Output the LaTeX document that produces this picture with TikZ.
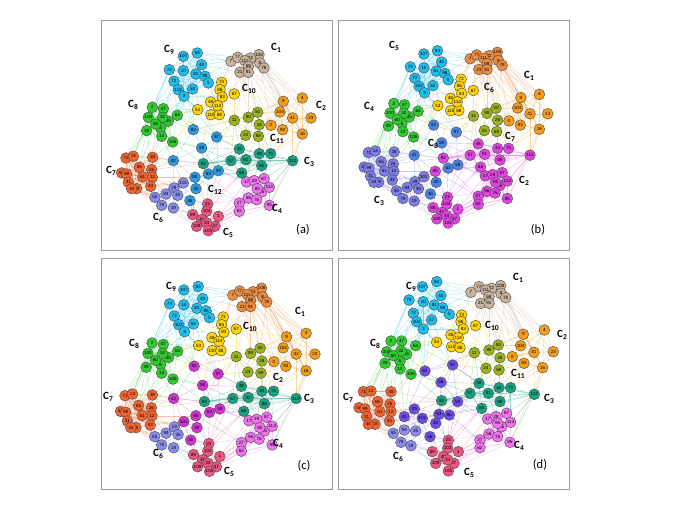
\documentclass[tikz,border=0pt]{standalone}
\usepackage{fontspec}
\setsansfont{Liberation Sans}
\newfontfamily\lblfont{Carlito}
\pgfdeclarelayer{bg}
\pgfdeclarelayer{edges}
\pgfsetlayers{bg,edges,main}
\definecolor{cCyan}{HTML}{1DBFEE}
\definecolor{cTan}{HTML}{C9B39C}
\definecolor{cOrange}{HTML}{F49D16}
\definecolor{cOrangeB}{HTML}{EE8C3E}
\definecolor{cYellow}{HTML}{FFD502}
\definecolor{cOlive}{HTML}{9CB41C}
\definecolor{cGreen}{HTML}{2FCB2F}
\definecolor{cBlue}{HTML}{2C9BE6}
\definecolor{cBlueB}{HTML}{4C85E8}
\definecolor{cTeal}{HTML}{15A383}
\definecolor{cPink}{HTML}{F272F2}
\definecolor{cRose}{HTML}{EC5580}
\definecolor{cLav}{HTML}{8C8CEE}
\definecolor{cLavB}{HTML}{7D7DEA}
\definecolor{cRed}{HTML}{F2642E}
\definecolor{cMag}{HTML}{E144E1}
\definecolor{cMagD}{HTML}{D233D2}
\definecolor{cPurp}{HTML}{6E4CEA}
% panel a
\colorlet{a-g9}{cCyan}\colorlet{a-g1}{cTan}\colorlet{a-g10}{cYellow}\colorlet{a-g2}{cOrange}
\colorlet{a-g11}{cOlive}\colorlet{a-g8}{cGreen}\colorlet{a-gB}{cBlue}\colorlet{a-g80}{cBlue}
\colorlet{a-g92}{cTeal}\colorlet{a-g101}{cLav}\colorlet{a-g29}{cLav}\colorlet{a-g3}{cTeal}
\colorlet{a-g4}{cPink}\colorlet{a-g5}{cRose}\colorlet{a-g6}{cLav}\colorlet{a-g7}{cRed}
% panel b
\colorlet{b-g9}{cCyan}\colorlet{b-g1}{cOrangeB}\colorlet{b-g10}{cYellow}\colorlet{b-g2}{cOrange}
\colorlet{b-g11}{cOlive}\colorlet{b-g8}{cGreen}\colorlet{b-gB}{cBlueB}\colorlet{b-g80}{cMag}
\colorlet{b-g92}{cMag}\colorlet{b-g101}{cLavB}\colorlet{b-g29}{cLavB}\colorlet{b-g3}{cMag}
\colorlet{b-g4}{cMag}\colorlet{b-g5}{cMag}\colorlet{b-g6}{cLavB}\colorlet{b-g7}{cLavB}
% panel c
\colorlet{c-g9}{cCyan}\colorlet{c-g1}{cOrangeB}\colorlet{c-g10}{cYellow}\colorlet{c-g2}{cOrange}
\colorlet{c-g11}{cOlive}\colorlet{c-g8}{cGreen}\colorlet{c-gB}{cMagD}\colorlet{c-g80}{cMagD}
\colorlet{c-g92}{cTeal}\colorlet{c-g101}{cMagD}\colorlet{c-g29}{cLav}\colorlet{c-g3}{cTeal}
\colorlet{c-g4}{cPink}\colorlet{c-g5}{cRose}\colorlet{c-g6}{cLav}\colorlet{c-g7}{cRed}
% panel d
\colorlet{d-g9}{cCyan}\colorlet{d-g1}{cTan}\colorlet{d-g10}{cYellow}\colorlet{d-g2}{cOrange}
\colorlet{d-g11}{cOlive}\colorlet{d-g8}{cGreen}\colorlet{d-gB}{cPurp}\colorlet{d-g80}{cPurp}
\colorlet{d-g92}{cTeal}\colorlet{d-g101}{cPurp}\colorlet{d-g29}{cPurp}\colorlet{d-g3}{cTeal}
\colorlet{d-g4}{cPink}\colorlet{d-g5}{cRose}\colorlet{d-g6}{cLav}\colorlet{d-g7}{cRed}

\newcommand\csub[1]{\raisebox{-0.45ex}{\fontsize{7.5}{7.5}\selectfont #1}}

\def\nodelist{%
n107/107/250/115/262/95, n84/84/292/105/305/80, n40/40/305/140/318/122, n74/74/208/155/222/135,
n10/10/250/158/265/140, n81/81/288/168/298/150, n98/98/315/175/323/158, n5/5/325/195/343/178,
n72/72/222/190/235/175, n102/102/235/215/245/200, n52/52/278/213/290/195, n3/3/252/235/265/222,
n7/7/393/130/408/112, n77/77/413/118/432/95, n108/108/477/110/497/92, n22/22/452/120/470/100,
n8/8/480/135/498/115, n78/78/492/150/512/128, n111/111/435/128/452/105, n68/68/445/145/462/125,
n21/21/420/163/437/145, n91/91/445/163/462/145,
n73/73/365/193/380/180, n86/86/360/215/378/200, n67/67/403/228/422/212, n83/83/367/237/385/222,
n48/48/332/252/348/240, n53/53/293/275/305/262, n110/110/333/290/350/275, n88/88/358/290/375/278,
n114/114/353/263/370/248,
n9/9/550/250/565/238, n4/4/607/240/628/225, n104/104/540/282/557/272, n41/41/578/300/597/292,
n23/23/633/300/655/290, n0/0/513/322/532/305, n93/93/548/335/567/325, n16/16/607/348/623/338,
n11/11/403/307/418/293, n50/50/473/283/490/270, n90/90/445/298/462/285, n28/28/478/320/495/308,
n24/24/437/352/453/340, n69/69/475/355/492/345,
n2/2/157/268/168/258, n47/47/190/272/200/258, n64/64/232/292/242/272, n100/100/145/298/155/290,
n6/6/182/330/195/318, n35/35/205/310/215/298, n32/32/188/298/198/288, n60/60/167/318/175/302,
n39/39/140/338/150/325, n13/13/185/355/195/342, n106/106/218/372/228/358,
n82/82/280/335/270/348, n97/97/350/357/353/330, n58/58/305/390/318/382, n42/42/220/428/208/485,
n92/92/310/437/320/437, n59/59/355/458/368/440, n29/29/222/510/238/462, n101/101/250/495/262/490,
n80/80/285/478/343/480, n63/63/325/468/312/478, n30/30/288/512/302/505, n36/36/270/548/285/545,
n46/48/418/393/432/385, n44/44/478/407/492/398, n75/75/512/407/527/398, n57/57/393/428/405/415,
n91b/91/438/425/460/415, n66b/86/485/443/495/440, n112/112/578/428/598/418, n66/66/425/465/440/460,
n17/17/440/492/458/492, n29b/29/463/488/483/485, n87/87/492/482/515/475, n96/96/485/522/500/515,
n85/85/472/512/488/505, n113/113/508/508/527/502, n56/56/445/540/462/537, n76/76/470/545/488/545,
n27/27/418/555/435/555, n95/95/508/562/525/562, n62/62/418/580/435/578,
n25/25/323/558/340/556, n89/89/278/590/292/590, n1/1/355/595/370/590, n103/103/320/580/338/580,
n45/45/305/605/325/605, n109/109/290/625/302/625, n37/37/345/625/357/625, n34b/34/320/615/338/615,
n105/105/325/638/340/648,
n55/55/165/538/175/535, n94/94/198/528/208/525, n35b/35/233/532/242/528, n79/79/185/562/198/562,
n19/19/220/570/228/572,
n71/71/78/420/85/410, n14/14/100/415/108/408, n38/38/158/418/168/410, n65/65/118/448/128/440,
n26/26/155/455/165/447, n56b/56/65/465/72/458, n99/99/80/468/90/462, n61/61/128/477/135/470,
n12/12/157/478/168/470, n31/31/85/493/95/485, n18/18/110/512/120/508, n34/34/95/512/100/508,
n43/43/152/505/163/498}

\def\grouplist{%
g9/{n107,n84,n40,n74,n10,n81,n98,n5,n72,n102,n52,n3},
g1/{n7,n77,n108,n22,n8,n78,n111,n68,n21,n91},
g10/{n73,n86,n67,n83,n48,n53,n110,n88,n114},
g2/{n9,n4,n104,n41,n23,n0,n93,n16},
g11/{n11,n50,n90,n28,n24,n69},
g8/{n2,n47,n64,n100,n6,n35,n32,n60,n39,n13,n106},
gB/{n82,n97,n58,n42,n59,n63,n30,n36},
g80/{n80}, g92/{n92}, g101/{n101}, g29/{n29},
g3/{n46,n44,n75,n57,n91b,n66b,n112,n66},
g4/{n17,n29b,n87,n96,n85,n113,n56,n76,n27,n95,n62},
g5/{n25,n89,n1,n103,n45,n109,n37,n34b,n105},
g6/{n55,n94,n35b,n79,n19},
g7/{n71,n14,n38,n65,n26,n56b,n99,n61,n12,n31,n18,n34,n43}}

\def\structlist{%
{n107,n84,n40,n74,n10,n81,n98,n5,n72,n102,n52,n3},
{n7,n77,n108,n22,n8,n78,n111,n68,n21,n91},
{n73,n86,n67,n83,n48,n53,n110,n88,n114},
{n9,n4,n104,n41,n23,n0,n93,n16},
{n11,n50,n90,n28,n24,n69},
{n2,n47,n64,n100,n6,n35,n32,n60,n39,n13,n106},
{n46,n44,n75,n57,n91b,n66b,n112,n66,n92},
{n17,n29b,n87,n96,n85,n113,n56,n76,n27,n95,n62},
{n25,n89,n1,n103,n45,n109,n37,n34b,n105},
{n55,n94,n35b,n79,n19,n29,n101},
{n71,n14,n38,n65,n26,n56b,n99,n61,n12,n31,n18,n34,n43}}

\def\edgelist{%
n82/n97, n82/n58, n97/n58, n58/n42, n58/n63, n42/n80, n63/n59, n59/n80, n80/n30, n30/n36,
n63/n30, n97/n59, n42/n36, n82/n42,
n3/n64, n102/n2, n72/n47, n74/n100, n10/n64, n52/n32, n3/n35, n72/n2,
n5/n73, n98/n86, n52/n48, n81/n53, n3/n83, n40/n73, n102/n53,
n84/n7, n40/n21, n98/n7, n5/n67, n52/n82, n3/n97, n102/n82,
n78/n9, n8/n4, n108/n23, n91/n104, n21/n0, n68/n41, n78/n16, n111/n93, n108/n4, n8/n9,
n7/n73, n21/n67, n91/n83, n7/n86, n91/n90, n21/n50, n68/n28,
n67/n11, n88/n24, n114/n90, n110/n69, n67/n50,
n53/n82, n110/n97, n48/n58, n53/n64, n48/n106, n86/n47,
n0/n28, n104/n50, n93/n69, n9/n90,
n16/n112, n93/n75, n23/n112, n0/n44, n41/n112,
n24/n46, n69/n44, n11/n57, n28/n75, n11/n97,
n39/n71, n13/n38, n106/n26, n100/n14, n39/n65, n60/n38, n2/n14,
n106/n42, n13/n58, n64/n82, n32/n82,
n43/n55, n12/n94, n18/n79, n61/n29, n34/n55,
n38/n42, n26/n42, n12/n80, n65/n42,
n101/n30, n29/n80, n35b/n36, n94/n30, n19/n36, n101/n63,
n79/n89, n19/n109, n35b/n25, n36/n89, n30/n25, n63/n103, n59/n25,
n59/n57, n97/n46, n58/n92, n92/n57, n63/n66, n59/n17, n80/n27,
n66/n17, n66b/n87, n112/n113, n44/n29b, n91b/n85, n75/n87, n112/n87,
n62/n1, n27/n1, n56/n37, n62/n105, n95/n105,
n25/n66, n42/n92, n58/n59, n47/n53, n106/n92, n38/n92, n71/n55, n31/n55,
n16/n95, n57/n58, n46/n11,
n78/n104, n78/n41, n8/n0, n22/n9, n111/n4, n68/n9, n91/n0, n21/n90, n108/n16, n8/n23,
n77/n67, n7/n83, n68/n11, n91/n28, n78/n50, n22/n41,
n107/n7, n84/n77, n40/n7, n98/n73, n81/n86, n5/n114, n10/n47, n74/n2, n72/n64, n102/n47,
n3/n53, n52/n64, n52/n97, n10/n82, n74/n39,
n114/n11, n88/n97, n110/n58, n53/n106, n48/n64, n83/n90, n67/n9, n86/n111, n88/n46, n114/n57,
n0/n11, n93/n44, n16/n75, n41/n28, n23/n75, n104/n28, n9/n11, n0/n57,
n24/n57, n69/n91b, n11/n92, n28/n44, n50/n104, n90/n46, n24/n97,
n39/n14, n13/n65, n106/n38, n100/n71, n60/n65, n32/n53, n64/n97, n106/n58, n13/n42, n39/n26,
n43/n94, n12/n29, n18/n55, n43/n101, n26/n92, n61/n55, n34/n79, n43/n80,
n79/n109, n19/n89, n55/n89, n35b/n30, n19/n25, n29/n36,
n25/n80, n1/n27, n37/n62, n105/n56, n103/n66, n25/n57, n1/n17, n89/n30, n45/n36,
n17/n57, n87/n75, n113/n112, n95/n1, n27/n63, n56/n25, n29b/n66, n85/n92,
n57/n63, n46/n97, n91b/n59, n66/n80, n112/n95, n44/n87, n75/n113,
n82/n11, n97/n92, n58/n46, n42/n29, n59/n92, n63/n92, n30/n101, n36/n25, n80/n63}

\begin{document}
\begin{tikzpicture}[x=1pt,y=-1pt,
  nd/.style={circle, draw=black!70, line width=0.45pt, minimum size=10.8pt, inner sep=0pt,
    font=\sffamily\fontsize{4.6}{4.6}\selectfont},
  edg/.style={line width=0.35pt, opacity=0.42},
  clab/.style={anchor=west, xshift=-4pt, inner sep=0pt,
    font=\lblfont\bfseries\fontsize{11}{11}\selectfont},
  plab/.style={inner sep=0pt, font=\lblfont\fontsize{12.5}{12.5}\selectfont},
  panelbox/.style={draw=black!40, line width=0.8pt}]
\useasboundingbox (0,0) rectangle (679,526);
\begin{pgfonlayer}{bg}
  \fill[white] (0,0) rectangle (679,526);
\end{pgfonlayer}

\foreach \g/\mem in \grouplist {\foreach \u in \mem {\expandafter\xdef\csname grp@\u\endcsname{\g}}}

\draw[panelbox] (101,20) rectangle (332,250);
\draw[panelbox] (338,20) rectangle (569,250);
\draw[panelbox] (101,258) rectangle (332,489);
\draw[panelbox] (338,258) rectangle (569,489);

\foreach \p/\ox/\oy/\sx/\sy in {a/100/18/0.3333/0.3333, b/343.1/16.8/0.3233/0.3233,
    c/98.3/250.1/0.3423/0.3467, d/335/255/0.3333/0.3333}{
  \foreach \id/\lab/\xa/\ya/\xd/\yd in \nodelist {
    \if\p d\edef\px{\xd}\edef\py{\yd}\else\edef\px{\xa}\edef\py{\ya}\fi
    \edef\nc{\p-\csname grp@\id\endcsname}
    \node[nd, fill=\nc] (\p-\id) at ({\ox+\sx*\px},{\oy+\sy*\py}) {\lab};
  }
  \begin{pgfonlayer}{edges}
    \foreach \mem in \structlist {
      \foreach \u [count=\i] in \mem {
        \foreach \v [count=\j] in \mem {
          \ifnum\j>\i
            \edef\ec{\p-\csname grp@\u\endcsname}
            \draw[edg, draw=\ec] (\p-\u) -- (\p-\v);
          \fi
        }
      }
    }
    \foreach \u/\v in \edgelist {
      \edef\ec{\p-\csname grp@\u\endcsname}
      \draw[edg, draw=\ec] (\p-\u) -- (\p-\v);
    }
  \end{pgfonlayer}
}

% labels panel a
\node[clab] (a-C9) at (168,50) {C\csub{9}};
\node[clab] (a-C1) at (275,48) {C\csub{1}};
\node[clab] (a-C10) at (246,89) {C\csub{10}};
\node[clab] (a-C2) at (320,106) {C\csub{2}};
\node[clab] (a-C8) at (132,105) {C\csub{8}};
\node[clab] (a-C11) at (274,139) {C\csub{11}};
\node[clab] (a-C3) at (308,162) {C\csub{3}};
\node[clab] (a-C7) at (110,171) {C\csub{7}};
\node[clab] (a-C12) at (212,190) {C\csub{12}};
\node[clab] (a-C4) at (276,209) {C\csub{4}};
\node[clab] (a-C6) at (157,218) {C\csub{6}};
\node[clab] (a-C5) at (227,233) {C\csub{5}};
\node[plab] (a-lab) at (303,230) {(a)};
% labels panel b
\node[clab] (b-C5) at (393,46) {C\csub{5}};
\node[clab] (b-C1) at (528,76) {C\csub{1}};
\node[clab] (b-C6) at (488,88) {C\csub{6}};
\node[clab] (b-C4) at (368,107) {C\csub{4}};
\node[clab] (b-C7) at (509,137) {C\csub{7}};
\node[clab] (b-C8) at (432,144) {C\csub{8}};
\node[clab] (b-C2) at (523,181) {C\csub{2}};
\node[clab] (b-C3) at (378,201) {C\csub{3}};
\node[plab] (b-lab) at (538,230) {(b)};
% labels panel c
\node[clab] (c-C9) at (170,287) {C\csub{9}};
\node[clab] (c-C1) at (299,312) {C\csub{1}};
\node[clab] (c-C10) at (247,327) {C\csub{10}};
\node[clab] (c-C8) at (133,344) {C\csub{8}};
\node[clab] (c-C2) at (277,378) {C\csub{2}};
\node[clab] (c-C3) at (308,399) {C\csub{3}};
\node[clab] (c-C7) at (107,397) {C\csub{7}};
\node[clab] (c-C4) at (277,444) {C\csub{4}};
\node[clab] (c-C6) at (157,454) {C\csub{6}};
\node[clab] (c-C5) at (228,472) {C\csub{5}};
\node[plab] (c-lab) at (304,466) {(c)};
% labels panel d
\node[clab] (d-C9) at (410,287) {C\csub{9}};
\node[clab] (d-C1) at (517,278) {C\csub{1}};
\node[clab] (d-C10) at (489,326) {C\csub{10}};
\node[clab] (d-C2) at (561,335) {C\csub{2}};
\node[clab] (d-C8) at (374,344) {C\csub{8}};
\node[clab] (d-C11) at (515,374) {C\csub{11}};
\node[clab] (d-C3) at (548,399) {C\csub{3}};
\node[clab] (d-C7) at (347,398) {C\csub{7}};
\node[clab] (d-C4) at (518,446) {C\csub{4}};
\node[clab] (d-C6) at (397,457) {C\csub{6}};
\node[clab] (d-C5) at (468,473) {C\csub{5}};
\node[plab] (d-lab) at (540,465) {(d)};
\end{tikzpicture}
\end{document}
